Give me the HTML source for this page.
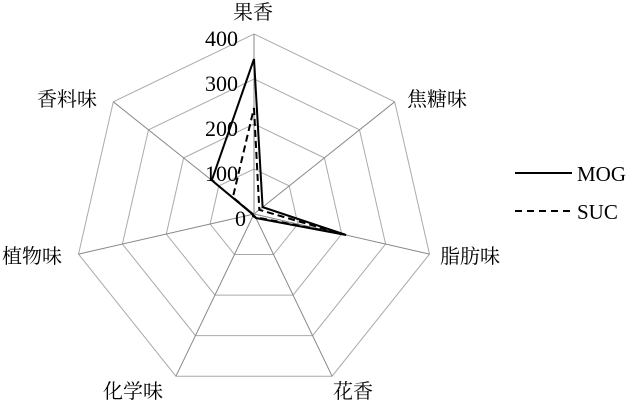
<!DOCTYPE html>
<html><head><meta charset="utf-8"><style>
html,body{margin:0;padding:0;background:#fff;}
svg{display:block;}
text{font-family:"Liberation Serif","Noto Serif CJK SC",serif;fill:#000;}
</style></head><body>
<svg width="631" height="403" viewBox="0 0 631 403" xmlns="http://www.w3.org/2000/svg">
<g fill="none" stroke="#aaa" stroke-width="1">
<polygon points="254,34 394.7,101.8 429.5,254.1 332.1,376.2 175.9,376.2 78.5,254.1 113.3,101.8"/>
<polygon points="254,79 359.5,129.8 385.6,244 312.6,335.6 195.4,335.6 122.4,244 148.5,129.8"/>
<polygon points="254,124 324.4,157.9 341.7,234 293.1,295.1 214.9,295.1 166.3,234 183.6,157.9"/>
<polygon points="254,169 289.2,185.9 297.9,224 273.5,254.5 234.5,254.5 210.1,224 218.8,185.9"/>
</g>
<g stroke="#888" stroke-width="1">
<line x1="254" y1="214" x2="254" y2="34"/>
<line x1="254" y1="214" x2="394.7" y2="101.8"/>
<line x1="254" y1="214" x2="429.5" y2="254.1"/>
<line x1="254" y1="214" x2="332.1" y2="376.2"/>
<line x1="254" y1="214" x2="175.9" y2="376.2"/>
<line x1="254" y1="214" x2="78.5" y2="254.1"/>
<line x1="254" y1="214" x2="113.3" y2="101.8"/>
</g>
<g font-size="22" text-anchor="end">
<text x="238" y="46">400</text>
<text x="238" y="91">300</text>
<text x="238" y="136">200</text>
<text x="238" y="181">100</text>
<text x="246" y="226">0</text>
</g>
<polygon fill="none" stroke="#000" stroke-width="2" stroke-linejoin="miter" points="254,59 262.6,207.1 346.1,235 256,218 253,216 252.7,214.3 211.8,180.3"/>
<polygon fill="none" stroke="#000" stroke-width="2" stroke-dasharray="7,4" points="254,108 259.3,209.8 341.7,234 255.6,217.2 253.3,215.5 252.7,214.3 232.9,197.2"/>
<g font-size="20">
<text x="253" y="19" text-anchor="middle">果香</text>
<text x="407" y="106">焦糖味</text>
<text x="440" y="263">脂肪味</text>
<text x="333" y="398">花香</text>
<text x="103" y="398">化学味</text>
<text x="2" y="263">植物味</text>
<text x="37" y="106">香料味</text>
</g>
<g font-size="21">
<text x="577" y="181">MOG</text>
<text x="577" y="219">SUC</text>
</g>
<line x1="515" y1="173" x2="572" y2="173" stroke="#000" stroke-width="2"/>
<line x1="515" y1="211" x2="572" y2="211" stroke="#000" stroke-width="2" stroke-dasharray="7,5"/>
</svg>
</body></html>
